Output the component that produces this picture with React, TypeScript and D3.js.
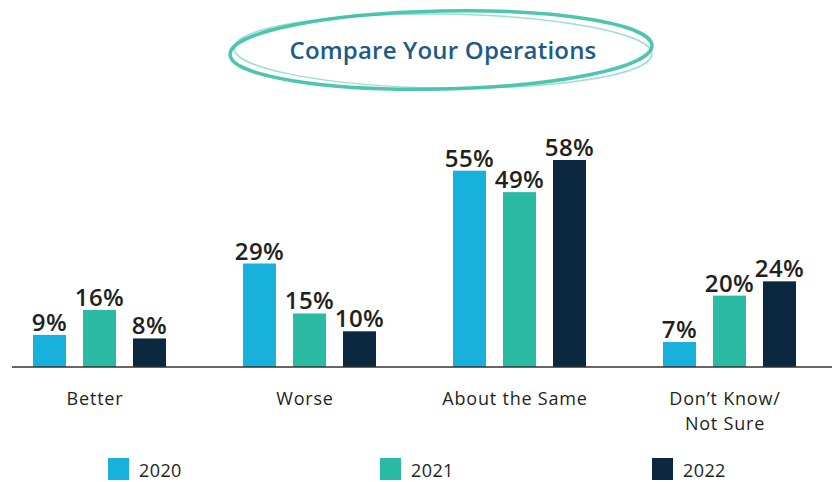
import React from "react";
import * as d3 from "d3";

const categories = ["Better", "Worse", "About the Same", "Don't Know/\nNot Sure"];
const years = ["2020", "2021", "2022"];
const values2020 = [9, 29, 55, 7];
const values2021 = [16, 15, 49, 20];
const values2022 = [8, 10, 58, 24];
const seriesValues = [values2020, values2021, values2022];
const colors = ["#17b1dc", "#2bbba5", "#0b2840"];

const W = 838;
const H = 482;

export default function App() {
  const baseY = 367;
  const y = d3.scaleLinear().domain([0, 58]).range([baseY, 160]);
  const x0 = d3.scaleBand().domain(categories).range([33, 33 + 4 * 210]).paddingInner(0).paddingOuter(0);
  const x1 = d3.scaleBand().domain(years).range([0, 133]).paddingInner(0.34).paddingOuter(0);
  const legendX = d3.scalePoint().domain(years).range([108, 652]);
  const font = "'Open Sans', Lato, sans-serif";

  return (
    <div style={{ position: "absolute", left: 0, top: 0 }}>
      <svg width={W} height={H} style={{ display: "block", fontFamily: font }}>
        <rect width={W} height={H} fill="#fff" />
        <g fill="none" stroke="#3bbfa7">
          <ellipse cx={441} cy={50} rx={211} ry={39} strokeWidth={3.5} transform="rotate(-1.2 441 50)" opacity={0.9} />
          <ellipse cx={443} cy={51} rx={209} ry={37} strokeWidth={1.5} transform="rotate(0.8 441 50)" opacity={0.5} />
        </g>
        <text x={443} y={59} textAnchor="middle" fontSize={24} fontWeight={600} letterSpacing={0.2} fill="#1d5a8a">
          Compare Your Operations
        </text>
        {categories.map((c, ci) => (
          <g key={c}>
            {years.map((yr, si) => {
              const v = seriesValues[si][ci];
              const bx = (x0(c) as number) + (x1(yr) as number);
              return (
                <g key={yr}>
                  <rect x={bx} y={y(v)} width={x1.bandwidth()} height={baseY - y(v)} fill={colors[si]} />
                  <text x={bx + x1.bandwidth() / 2} y={y(v) - 4} textAnchor="middle" fontSize={24} fontWeight={600} letterSpacing={0.5} fill="#231f20">
                    {v}%
                  </text>
                </g>
              );
            })}
            {c.split("\n").map((line, li) => (
              <text key={li} x={(x0(c) as number) + 62} y={405 + li * 25} textAnchor="middle" fontSize={18} letterSpacing={0.8} fill="#231f20">
                {line.replace("'", "\u2019")}
              </text>
            ))}
          </g>
        ))}
        <line x1={12} x2={832} y1={baseY} y2={baseY} stroke="#333" strokeWidth={1.5} />
        {years.map((yr, si) => (
          <g key={yr}>
            <rect x={legendX(yr)} y={458} width={21} height={22} fill={colors[si]} />
            <text x={(legendX(yr) as number) + 31} y={477} fontSize={18} letterSpacing={0.4} fill="#231f20">
              {yr}
            </text>
          </g>
        ))}
      </svg>
    </div>
  );
}
